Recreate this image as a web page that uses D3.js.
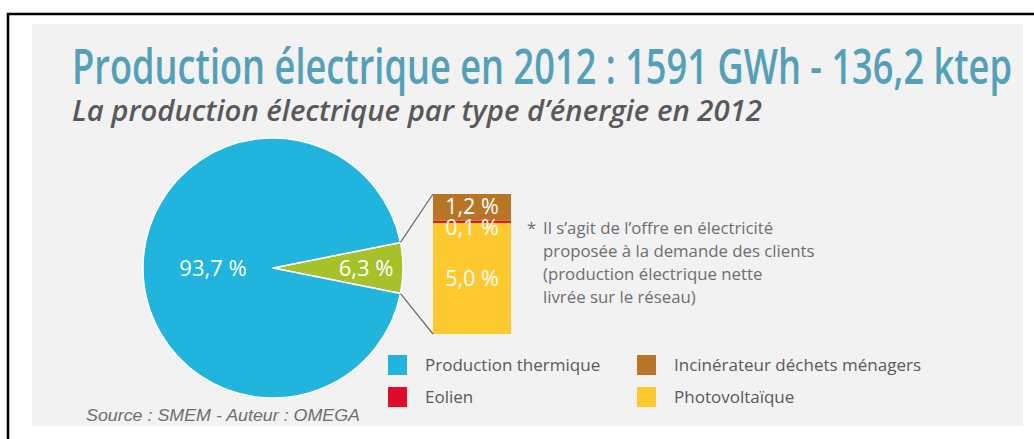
<!DOCTYPE html>
<html>
<head>
<meta charset="utf-8">
<script src="https://cdn.jsdelivr.net/npm/d3@7"></script>
<style>
  body { margin: 0; background: #fff; }
  svg { display: block; }
</style>
</head>
<body>
<div id="chart"></div>
<script>
// main split of the pie
const pieCategories = ["Autres énergies", "Production thermique"];
const pieValues = [6.3, 93.7];
const pieLabels = ["6,3 %", "93,7 %"];

// detail of the 6,3 % part, stacked from bottom to top
const barCategories = ["Photovoltaïque", "Eolien", "Incinérateur déchets ménagers"];
const barValues = [5.0, 0.1, 1.2];
const barLabels = ["5,0 %", "0,1 %", "1,2 %"];

// legend, column by column
const legendCategories = [
  "Production thermique",
  "Eolien",
  "Incinérateur déchets ménagers",
  "Photovoltaïque",
];

const footnoteLines = [
  "Il s’agit de l’offre en électricité",
  "proposée à la demande des clients",
  "(production électrique nette",
  "livrée sur le réseau)",
];

function init() {
  const width = 1034,
    height = 439;

  const color = d3
    .scaleOrdinal()
    .domain(["Production thermique", "Autres énergies", "Eolien", "Incinérateur déchets ménagers", "Photovoltaïque"])
    .range(["#21b4dc", "#a6c12a", "#e2092a", "#b97526", "#fec82f"]);

  const svg = d3
    .select("#chart")
    .append("svg")
    .attr("width", width)
    .attr("height", height);

  // frame + grey panel
  svg.append("rect")
    .attr("x", 32).attr("y", 24)
    .attr("width", 991).attr("height", 402)
    .attr("fill", "#f2f2f2");
  svg.append("path")
    .attr("d", "M8,439 V14 H1034")
    .attr("fill", "none")
    .attr("stroke", "#000")
    .attr("stroke-width", 2.5);

  // titles
  svg.append("text")
    .attr("x", 72).attr("y", 84)
    .attr("font-family", "Open Sans")
    .attr("font-weight", 600)
    .attr("font-size", "49px")
    .attr("fill", "#55a0b9")
    .attr("textLength", 940)
    .attr("lengthAdjust", "spacingAndGlyphs")
    .text("Production électrique en 2012 : 1591 GWh - 136,2 ktep");

  svg.append("text")
    .attr("x", 72).attr("y", 121)
    .attr("font-family", "Open Sans")
    .attr("font-weight", 600)
    .attr("font-style", "italic")
    .attr("font-size", "28px")
    .attr("fill", "#58595b")
    .attr("textLength", 690)
    .attr("lengthAdjust", "spacingAndGlyphs")
    .text("La production électrique par type d’énergie en 2012");

  // pie
  const cx = 273, cy = 268, r = 130;
  const half = (pieValues[0] / d3.sum(pieValues)) * Math.PI;
  const pie = d3.pie().sort(null)
    .startAngle(Math.PI / 2 - half)
    .endAngle(Math.PI / 2 - half + 2 * Math.PI);
  const arcs = pie(pieValues);
  const arc = d3.arc().innerRadius(0).outerRadius(r);

  const gPie = svg.append("g").attr("transform", `translate(${cx},${cy})`);
  gPie.selectAll("path")
    .data(arcs)
    .join("path")
    .attr("d", arc)
    .attr("fill", (d, i) => color(pieCategories[i]))
    .attr("stroke", "#fff")
    .attr("stroke-width", 1.5)
    .attr("stroke-linejoin", "round");

  const labelRadius = [93, 60];
  gPie.selectAll("text")
    .data(arcs)
    .join("text")
    .attr("transform", (d, i) => {
      const c = d3.arc().innerRadius(labelRadius[i]).outerRadius(labelRadius[i]).centroid(d);
      return `translate(${c[0]},${c[1]})`;
    })
    .attr("text-anchor", "middle")
    .attr("dy", "0.36em")
    .attr("font-family", "Open Sans")
    .attr("font-size", "22px")
    .attr("fill", "#fff")
    .text((d, i) => pieLabels[i]);

  // stacked bar for the small slice
  const barX = 433, barW = 78;
  const y = d3.scaleLinear().domain([0, d3.sum(barValues)]).range([334, 194]);
  const stacked = [];
  let acc = 0;
  barValues.forEach((v, i) => {
    stacked.push({ key: barCategories[i], y0: acc, y1: acc + v, label: barLabels[i] });
    acc += v;
  });

  svg.append("g")
    .selectAll("rect")
    .data(stacked)
    .join("rect")
    .attr("x", barX)
    .attr("y", (d) => y(d.y1))
    .attr("width", barW)
    .attr("height", (d) => y(d.y0) - y(d.y1))
    .attr("fill", (d) => color(d.key));

  const labelY = { "Photovoltaïque": 278, "Eolien": 227, "Incinérateur déchets ménagers": 206 };
  svg.append("g")
    .selectAll("text")
    .data(stacked)
    .join("text")
    .attr("x", barX + barW / 2)
    .attr("y", (d) => labelY[d.key])
    .attr("dy", "0.36em")
    .attr("text-anchor", "middle")
    .attr("font-family", "Open Sans")
    .attr("font-size", "21.5px")
    .attr("fill", "#fff")
    .text((d) => d.label);

  // connector lines from the small slice to the bar
  const a0 = arcs[0].startAngle, a1 = arcs[0].endAngle;
  const pt = (a) => [cx + r * Math.sin(a), cy - r * Math.cos(a)];
  const p0 = pt(a0), p1 = pt(a1);
  svg.append("g")
    .selectAll("line")
    .data([[p0, [barX, y(d3.sum(barValues))]], [p1, [barX, y(0)]]])
    .join("line")
    .attr("x1", (d) => d[0][0]).attr("y1", (d) => d[0][1])
    .attr("x2", (d) => d[1][0]).attr("y2", (d) => d[1][1])
    .attr("stroke", "#6d6e70")
    .attr("stroke-width", 1.3);

  // footnote
  svg.append("text")
    .attr("x", 527).attr("y", 228)
    .attr("dy", "0.36em")
    .attr("font-family", "Open Sans")
    .attr("font-size", "16.5px")
    .attr("fill", "#6d6e70")
    .text("*");
  svg.append("g")
    .selectAll("text")
    .data(footnoteLines)
    .join("text")
    .attr("x", 543)
    .attr("y", (d, i) => 228 + i * 23)
    .attr("dy", "0.36em")
    .attr("font-family", "Open Sans")
    .attr("font-size", "16.8px")
    .attr("fill", "#6d6e70")
    .text((d) => d);

  // legend
  const legend = svg.append("g").attr("class", "legend");
  legend.selectAll("g")
    .data(legendCategories)
    .join("g")
    .attr("transform", (d, i) => `translate(${388 + Math.floor(i / 2) * 249}, ${355 + (i % 2) * 32})`)
    .each(function (d) {
      d3.select(this).append("rect")
        .attr("width", 19).attr("height", 20)
        .attr("fill", color(d));
      d3.select(this).append("text")
        .attr("x", 37).attr("y", 10)
        .attr("dy", "0.36em")
        .attr("font-family", "Open Sans")
        .attr("font-size", "17px")
        .attr("fill", "#58595b")
        .text(d);
    });

  // source
  svg.append("text")
    .attr("x", 86).attr("y", 421)
    .attr("font-family", "Liberation Sans")
    .attr("font-style", "italic")
    .attr("font-size", "17px")
    .attr("fill", "#6d6e70")
    .attr("textLength", 274)
    .attr("lengthAdjust", "spacingAndGlyphs")
    .text("Source : SMEM - Auteur : OMEGA");
}

window.addEventListener("load", init);
</script>
</body>
</html>
